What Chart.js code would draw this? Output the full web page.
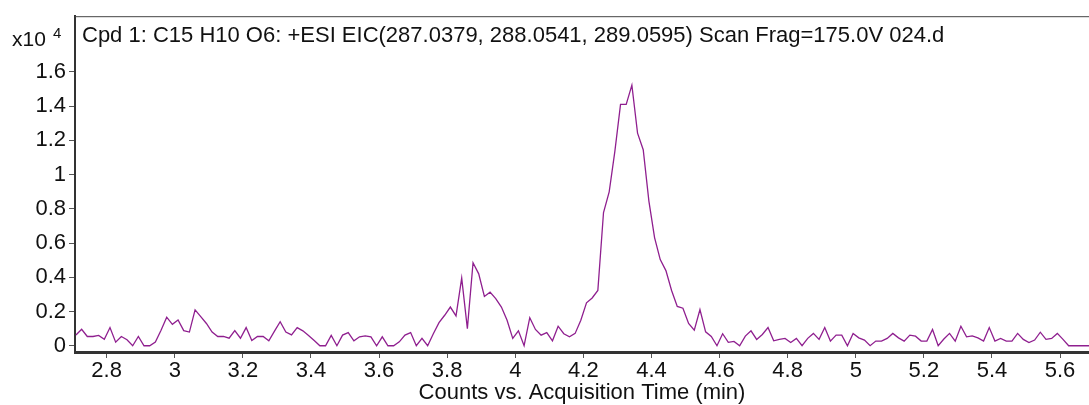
<!DOCTYPE html>
<html>
<head>
<meta charset="utf-8">
<script src="https://cdn.jsdelivr.net/npm/chart.js@4.4.1/dist/chart.umd.min.js"></script>
<style>
  html, body { margin: 0; padding: 0; background: #fff; }
  #eic { display: block; }
</style>
</head>
<body>
<canvas id="eic" width="1089" height="405"></canvas>
<script>
// EIC trace, counts in units of 10^4, one scan per ~1 s
const scanStart = 2.7098;   // min, first scan visible
const scanStep = 0.01666;   // min between scans
const counts = [
  0.063, 0.096, 0.054, 0.054, 0.06, 0.038, 0.106, 0.021, 0.054, 0.035,
  0, 0.054, 0, 0, 0.021, 0.09, 0.167, 0.125, 0.15, 0.088,
  0.08, 0.21, 0.17, 0.13, 0.08, 0.054, 0.054, 0.044, 0.088, 0.044,
  0.106, 0.03, 0.054, 0.054, 0.029, 0.085, 0.14, 0.08, 0.063, 0.106,
  0.087, 0.06, 0.03, 0, 0, 0.06, 0, 0.062, 0.077, 0.029,
  0.052, 0.058, 0.052, 0, 0.052, 0, 0, 0.023, 0.062, 0.077,
  0, 0.043, 0, 0.07, 0.135, 0.178, 0.226, 0.174, 0.395, 0.1,
  0.485, 0.42, 0.288, 0.313, 0.275, 0.226, 0.149, 0.043, 0.087, 0,
  0.164, 0.095, 0.062, 0.077, 0.029, 0.114, 0.07, 0.052, 0.072, 0.149,
  0.251, 0.279, 0.323, 0.778, 0.899, 1.135, 1.41, 1.41, 1.522, 1.242,
  1.145, 0.845, 0.632, 0.503, 0.439, 0.323, 0.23, 0.219, 0.13, 0.091,
  0.211, 0.081, 0.054, 0, 0.07, 0.02, 0.025, 0, 0.056, 0.087,
  0.037, 0.066, 0.106, 0.029, 0.037, 0.043, 0.019, 0.043, 0, 0.043,
  0.072, 0.037, 0.106, 0.027, 0.062, 0.062, 0, 0.072, 0.046, 0.033,
  0, 0.027, 0.027, 0.043, 0.072, 0.046, 0.027, 0.062, 0.056, 0.027,
  0.027, 0.095, 0, 0.039, 0.072, 0.027, 0.114, 0.052, 0.058, 0.046,
  0.027, 0.106, 0.027, 0.043, 0.027, 0.027, 0.072, 0.037, 0.019, 0.033,
  0.079, 0.037, 0.043, 0.072, 0.037, 0, 0, 0, 0, 0
];
const xTicks = [2.8, 3, 3.2, 3.4, 3.6, 3.8, 4, 4.2, 4.4, 4.6, 4.8, 5, 5.2, 5.4, 5.6];
const yTicks = [0, 0.2, 0.4, 0.6, 0.8, 1, 1.2, 1.4, 1.6];
const titleText = 'Cpd 1: C15 H10 O6: +ESI EIC(287.0379, 288.0541, 289.0595) Scan Frag=175.0V 024.d';
const xTitle = 'Counts vs. Acquisition Time (min)';
const yMultiplier = 'x10';
const yExponent = '4';

const FONT = '"Liberation Sans", Arial, Helvetica, sans-serif';

const points = counts.map((v, i) => ({ x: scanStart + i * scanStep, y: v }));

const eicLabels = {
  id: 'eicLabels',
  afterDraw(chart) {
    const { ctx, chartArea } = chart;
    ctx.save();
    // thin frame line on top of plot
    ctx.strokeStyle = '#444';
    ctx.lineWidth = 1;
    ctx.beginPath();
    ctx.moveTo(chartArea.left, chartArea.top + 0.5);
    ctx.lineTo(chartArea.right, chartArea.top + 0.5);
    ctx.stroke();

    ctx.fillStyle = '#111';
    ctx.textBaseline = 'alphabetic';
    ctx.textAlign = 'left';
    ctx.font = '22px ' + FONT;
    ctx.fillText(titleText, chartArea.left + 7, 42);
    ctx.font = '21px ' + FONT;
    ctx.fillText(yMultiplier, 12, 46);
    ctx.font = '15px ' + FONT;
    ctx.fillText(yExponent, 53, 38);
    ctx.restore();
  }
};

new Chart(document.getElementById('eic'), {
  type: 'line',
  data: {
    datasets: [{
      data: points,
      borderColor: '#8f1f8f',
      borderWidth: 1.3,
      pointRadius: 0,
      tension: 0,
      fill: false
    }]
  },
  options: {
    responsive: false,
    animation: false,
    devicePixelRatio: 1,
    layout: { padding: { top: 14, right: 0, left: 0, bottom: 0 } },
    plugins: {
      legend: { display: false },
      tooltip: { enabled: false }
    },
    scales: {
      x: {
        type: 'linear',
        min: 2.707,
        max: 5.685,
        afterFit: (s) => { s.height = 53; },
        afterBuildTicks: (s) => { s.ticks = xTicks.map(v => ({ value: v })); },
        ticks: {
          color: '#111',
          font: { size: 22, family: FONT },
          padding: 0,
          maxRotation: 0,
          callback: (v) => String(v)
        },
        grid: { drawOnChartArea: false, tickLength: 6, tickColor: '#555', tickWidth: 1 },
        border: { color: '#333', width: 3 },
        title: {
          display: true,
          text: xTitle,
          color: '#111',
          font: { size: 22, family: FONT },
          padding: { top: 0, bottom: -1 }
        }
      },
      y: {
        min: -0.0366,
        max: 1.925,
        afterFit: (s) => { s.width = 75; },
        afterBuildTicks: (s) => { s.ticks = yTicks.map(v => ({ value: v })); },
        ticks: {
          color: '#111',
          font: { size: 22, family: FONT },
          padding: 3,
          callback: (v) => String(v)
        },
        grid: { drawOnChartArea: false, tickLength: 6, tickColor: '#555', tickWidth: 1 },
        border: { color: '#333', width: 2 }
      }
    }
  },
  plugins: [eicLabels]
});
</script>
</body>
</html>
